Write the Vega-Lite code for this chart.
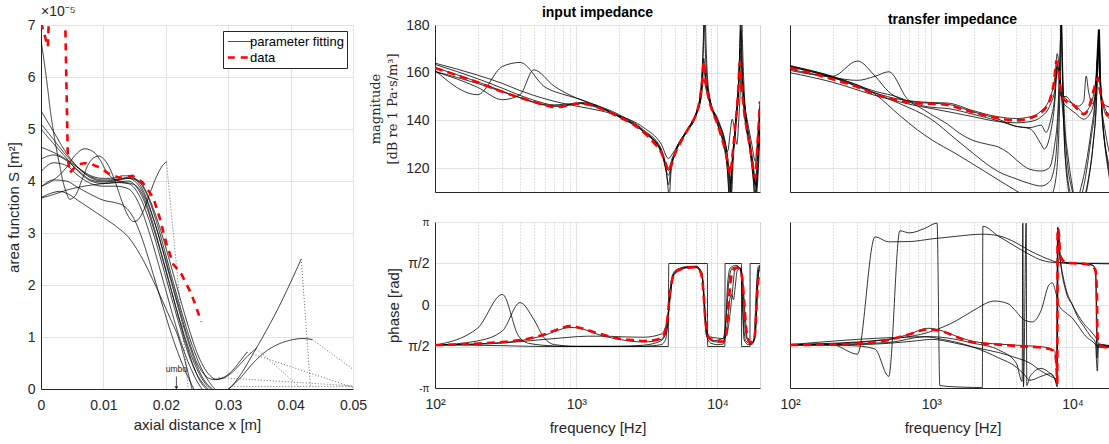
{
"$schema": "https://vega.github.io/schema/vega-lite/v6.json",
"background": "white",
"padding": {"left": 5, "top": 4, "right": 0, "bottom": 0},
"config": {
 "font": "Liberation Sans",
 "view": {"stroke": "#dcdcdc", "strokeWidth": 1},
 "axis": {"domainColor": "#262626", "domainWidth": 1, "labelColor": "#262626", "titleColor": "#262626", "labelFont": "Liberation Sans", "titleFont": "Liberation Sans", "labelFontSize": 14, "titleFontSize": 15, "titleFontWeight": "normal", "gridColor": "#e2e2e2", "gridWidth": 1, "ticks": false, "labelPadding": 6},
 "axisX": {"labelFlush": false},
 "title": {"font": "Liberation Sans", "fontSize": 14, "fontWeight": "bold", "color": "#000000", "offset": -2}
},
"datasets": {
 "area": [
  {"x":0,"S":6.71,"c":"1"},{"x":0.0005,"S":6.3,"c":"1"},{"x":0.001,"S":5.85,"c":"1"},{"x":0.0015,"S":5.35,"c":"1"},{"x":0.002,"S":4.95,"c":"1"},{"x":0.0025,"S":4.6,"c":"1"},{"x":0.003,"S":4.3,"c":"1"},{"x":0.0035,"S":4.0,"c":"1"},{"x":0.004,"S":3.8,"c":"1"},{"x":0.0046,"S":3.65,"c":"1"},{"x":0.0055,"S":3.72,"c":"1"},{"x":0.0065,"S":4.0,"c":"1"},{"x":0.0075,"S":4.3,"c":"1"},{"x":0.0085,"S":4.45,"c":"1"},{"x":0.0093,"S":4.48,"c":"1"},{"x":0.010,"S":4.43,"c":"1"},{"x":0.011,"S":4.25,"c":"1"},{"x":0.012,"S":3.95,"c":"1"},{"x":0.013,"S":3.6,"c":"1"},{"x":0.014,"S":3.32,"c":"1"},{"x":0.0148,"S":3.22,"c":"1"},{"x":0.0155,"S":3.25,"c":"1"},{"x":0.0165,"S":3.45,"c":"1"},{"x":0.0175,"S":3.78,"c":"1"},{"x":0.0185,"S":4.08,"c":"1"},{"x":0.0195,"S":4.3,"c":"1"},{"x":0.0201,"S":4.37,"c":"1"},
  {"x":0,"S":3.9,"c":"2"},{"x":0.002,"S":4.02,"c":"2"},{"x":0.004,"S":4.25,"c":"2"},{"x":0.0055,"S":4.5,"c":"2"},{"x":0.007,"S":4.62,"c":"2"},{"x":0.0085,"S":4.55,"c":"2"},{"x":0.0095,"S":4.4,"c":"2"},{"x":0.0105,"S":4.18,"c":"2"},{"x":0.0115,"S":4.05,"c":"2"},{"x":0.013,"S":3.98,"c":"2"},{"x":0.0145,"S":3.95,"c":"2"},{"x":0.0155,"S":3.88,"c":"2"},{"x":0.0165,"S":3.68,"c":"2"},{"x":0.0175,"S":3.35,"c":"2"},{"x":0.0185,"S":2.95,"c":"2"},{"x":0.0195,"S":2.52,"c":"2"},{"x":0.0205,"S":2.08,"c":"2"},{"x":0.0215,"S":1.62,"c":"2"},{"x":0.0225,"S":1.18,"c":"2"},{"x":0.0235,"S":0.78,"c":"2"},{"x":0.0245,"S":0.42,"c":"2"},{"x":0.0255,"S":0.15,"c":"2"},{"x":0.0265,"S":0.0,"c":"2"},
  {"x":0,"S":5.35,"c":"3"},{"x":0.002,"S":4.95,"c":"3"},{"x":0.004,"S":4.55,"c":"3"},{"x":0.006,"S":4.25,"c":"3"},{"x":0.008,"S":4.08,"c":"3"},{"x":0.010,"S":4.02,"c":"3"},{"x":0.012,"S":4.03,"c":"3"},{"x":0.014,"S":4.05,"c":"3"},{"x":0.015,"S":4.0,"c":"3"},{"x":0.016,"S":3.85,"c":"3"},{"x":0.017,"S":3.6,"c":"3"},{"x":0.018,"S":3.28,"c":"3"},{"x":0.019,"S":2.9,"c":"3"},{"x":0.020,"S":2.48,"c":"3"},{"x":0.021,"S":2.05,"c":"3"},{"x":0.022,"S":1.62,"c":"3"},{"x":0.023,"S":1.2,"c":"3"},{"x":0.024,"S":0.82,"c":"3"},{"x":0.025,"S":0.5,"c":"3"},{"x":0.026,"S":0.3,"c":"3"},{"x":0.027,"S":0.2,"c":"3"},{"x":0.028,"S":0.18,"c":"3"},{"x":0.029,"S":0.21,"c":"3"},{"x":0.030,"S":0.28,"c":"3"},{"x":0.031,"S":0.4,"c":"3"},{"x":0.032,"S":0.55,"c":"3"},{"x":0.033,"S":0.71,"c":"3"},
  {"x":0,"S":5.1,"c":"4"},{"x":0.002,"S":4.8,"c":"4"},{"x":0.004,"S":4.5,"c":"4"},{"x":0.006,"S":4.25,"c":"4"},{"x":0.008,"S":4.06,"c":"4"},{"x":0.010,"S":4.0,"c":"4"},{"x":0.012,"S":4.02,"c":"4"},{"x":0.014,"S":4.07,"c":"4"},{"x":0.0155,"S":4.02,"c":"4"},{"x":0.0165,"S":3.85,"c":"4"},{"x":0.0175,"S":3.58,"c":"4"},{"x":0.0185,"S":3.22,"c":"4"},{"x":0.0195,"S":2.8,"c":"4"},{"x":0.0205,"S":2.36,"c":"4"},{"x":0.0215,"S":1.92,"c":"4"},{"x":0.0225,"S":1.5,"c":"4"},{"x":0.0235,"S":1.1,"c":"4"},{"x":0.0245,"S":0.75,"c":"4"},{"x":0.0255,"S":0.45,"c":"4"},{"x":0.0265,"S":0.22,"c":"4"},{"x":0.0275,"S":0.05,"c":"4"},{"x":0.0285,"S":-0.05,"c":"4"},{"x":0.0295,"S":-0.05,"c":"4"},{"x":0.0305,"S":0.05,"c":"4"},{"x":0.032,"S":0.28,"c":"4"},{"x":0.034,"S":0.68,"c":"4"},{"x":0.036,"S":1.1,"c":"4"},{"x":0.038,"S":1.55,"c":"4"},{"x":0.040,"S":2.05,"c":"4"},{"x":0.0417,"S":2.5,"c":"4"},
  {"x":0,"S":5.0,"c":"5"},{"x":0.002,"S":4.72,"c":"5"},{"x":0.004,"S":4.45,"c":"5"},{"x":0.006,"S":4.18,"c":"5"},{"x":0.008,"S":4.0,"c":"5"},{"x":0.010,"S":3.95,"c":"5"},{"x":0.012,"S":3.97,"c":"5"},{"x":0.014,"S":4.0,"c":"5"},{"x":0.015,"S":3.93,"c":"5"},{"x":0.016,"S":3.75,"c":"5"},{"x":0.017,"S":3.47,"c":"5"},{"x":0.018,"S":3.1,"c":"5"},{"x":0.019,"S":2.7,"c":"5"},{"x":0.020,"S":2.27,"c":"5"},{"x":0.021,"S":1.84,"c":"5"},{"x":0.022,"S":1.42,"c":"5"},{"x":0.023,"S":1.02,"c":"5"},{"x":0.024,"S":0.67,"c":"5"},{"x":0.025,"S":0.38,"c":"5"},{"x":0.026,"S":0.16,"c":"5"},{"x":0.027,"S":0.02,"c":"5"},{"x":0.028,"S":-0.06,"c":"5"},{"x":0.029,"S":-0.06,"c":"5"},{"x":0.030,"S":0.0,"c":"5"},{"x":0.032,"S":0.22,"c":"5"},{"x":0.034,"S":0.5,"c":"5"},{"x":0.036,"S":0.72,"c":"5"},{"x":0.038,"S":0.86,"c":"5"},{"x":0.040,"S":0.94,"c":"5"},{"x":0.042,"S":0.97,"c":"5"},{"x":0.0435,"S":0.95,"c":"5"},
  {"x":0,"S":4.65,"c":"6"},{"x":0.002,"S":4.55,"c":"6"},{"x":0.004,"S":4.42,"c":"6"},{"x":0.006,"S":4.25,"c":"6"},{"x":0.008,"S":4.1,"c":"6"},{"x":0.010,"S":4.05,"c":"6"},{"x":0.012,"S":4.06,"c":"6"},{"x":0.013,"S":4.1,"c":"6"},{"x":0.014,"S":4.1,"c":"6"},{"x":0.015,"S":4.05,"c":"6"},{"x":0.016,"S":3.9,"c":"6"},{"x":0.017,"S":3.64,"c":"6"},{"x":0.018,"S":3.28,"c":"6"},{"x":0.019,"S":2.88,"c":"6"},{"x":0.020,"S":2.44,"c":"6"},{"x":0.021,"S":2.0,"c":"6"},{"x":0.022,"S":1.56,"c":"6"},{"x":0.023,"S":1.14,"c":"6"},{"x":0.024,"S":0.76,"c":"6"},{"x":0.025,"S":0.44,"c":"6"},{"x":0.026,"S":0.2,"c":"6"},{"x":0.027,"S":0.05,"c":"6"},{"x":0.0275,"S":0.0,"c":"6"},
  {"x":0,"S":4.42,"c":"7"},{"x":0.002,"S":4.5,"c":"7"},{"x":0.004,"S":4.4,"c":"7"},{"x":0.006,"S":4.2,"c":"7"},{"x":0.008,"S":4.02,"c":"7"},{"x":0.010,"S":3.98,"c":"7"},{"x":0.012,"S":4.0,"c":"7"},{"x":0.014,"S":4.05,"c":"7"},{"x":0.016,"S":3.96,"c":"7"},{"x":0.017,"S":3.76,"c":"7"},{"x":0.018,"S":3.47,"c":"7"},{"x":0.019,"S":3.12,"c":"7"},{"x":0.020,"S":2.72,"c":"7"},{"x":0.021,"S":2.3,"c":"7"},{"x":0.022,"S":1.87,"c":"7"},{"x":0.023,"S":1.45,"c":"7"},{"x":0.024,"S":1.05,"c":"7"},{"x":0.025,"S":0.7,"c":"7"},{"x":0.026,"S":0.44,"c":"7"},{"x":0.027,"S":0.27,"c":"7"},{"x":0.028,"S":0.19,"c":"7"},{"x":0.029,"S":0.2,"c":"7"},{"x":0.030,"S":0.26,"c":"7"},{"x":0.031,"S":0.36,"c":"7"},{"x":0.032,"S":0.49,"c":"7"},{"x":0.033,"S":0.62,"c":"7"},{"x":0.0345,"S":0.78,"c":"7"},
  {"x":0,"S":4.18,"c":"8"},{"x":0.002,"S":4.35,"c":"8"},{"x":0.004,"S":4.3,"c":"8"},{"x":0.006,"S":4.1,"c":"8"},{"x":0.008,"S":3.95,"c":"8"},{"x":0.010,"S":3.9,"c":"8"},{"x":0.012,"S":3.9,"c":"8"},{"x":0.014,"S":3.85,"c":"8"},{"x":0.015,"S":3.72,"c":"8"},{"x":0.016,"S":3.48,"c":"8"},{"x":0.017,"S":3.14,"c":"8"},{"x":0.018,"S":2.75,"c":"8"},{"x":0.019,"S":2.33,"c":"8"},{"x":0.020,"S":1.9,"c":"8"},{"x":0.021,"S":1.47,"c":"8"},{"x":0.022,"S":1.06,"c":"8"},{"x":0.023,"S":0.7,"c":"8"},{"x":0.024,"S":0.4,"c":"8"},{"x":0.025,"S":0.15,"c":"8"},{"x":0.0258,"S":0.0,"c":"8"},
  {"x":0,"S":3.88,"c":"9"},{"x":0.002,"S":4.02,"c":"9"},{"x":0.004,"S":4.0,"c":"9"},{"x":0.006,"S":3.87,"c":"9"},{"x":0.008,"S":3.74,"c":"9"},{"x":0.010,"S":3.63,"c":"9"},{"x":0.012,"S":3.58,"c":"9"},{"x":0.013,"S":3.54,"c":"9"},{"x":0.014,"S":3.44,"c":"9"},{"x":0.015,"S":3.25,"c":"9"},{"x":0.016,"S":2.96,"c":"9"},{"x":0.017,"S":2.6,"c":"9"},{"x":0.018,"S":2.2,"c":"9"},{"x":0.019,"S":1.8,"c":"9"},{"x":0.020,"S":1.4,"c":"9"},{"x":0.021,"S":1.02,"c":"9"},{"x":0.022,"S":0.68,"c":"9"},{"x":0.023,"S":0.38,"c":"9"},{"x":0.024,"S":0.12,"c":"9"},{"x":0.0245,"S":0.0,"c":"9"},
  {"x":0,"S":3.68,"c":"10"},{"x":0.0015,"S":3.76,"c":"10"},{"x":0.003,"S":3.8,"c":"10"},{"x":0.0045,"S":3.74,"c":"10"},{"x":0.006,"S":3.62,"c":"10"},{"x":0.008,"S":3.46,"c":"10"},{"x":0.010,"S":3.3,"c":"10"},{"x":0.012,"S":3.13,"c":"10"},{"x":0.014,"S":2.92,"c":"10"},{"x":0.016,"S":2.56,"c":"10"},{"x":0.018,"S":2.08,"c":"10"},{"x":0.020,"S":1.55,"c":"10"},{"x":0.021,"S":1.28,"c":"10"},{"x":0.022,"S":1.0,"c":"10"},{"x":0.023,"S":0.58,"c":"10"},{"x":0.024,"S":0.1,"c":"10"},{"x":0.0242,"S":0.0,"c":"10"},
  {"x":0,"S":3.67,"c":"11"},{"x":0.002,"S":3.74,"c":"11"},{"x":0.004,"S":3.82,"c":"11"},{"x":0.006,"S":3.88,"c":"11"},{"x":0.008,"S":3.92,"c":"11"},{"x":0.010,"S":3.95,"c":"11"},{"x":0.012,"S":3.97,"c":"11"},{"x":0.014,"S":3.95,"c":"11"},{"x":0.015,"S":3.86,"c":"11"},{"x":0.016,"S":3.66,"c":"11"},{"x":0.017,"S":3.36,"c":"11"},{"x":0.018,"S":2.99,"c":"11"},{"x":0.019,"S":2.58,"c":"11"},{"x":0.020,"S":2.15,"c":"11"},{"x":0.021,"S":1.72,"c":"11"},{"x":0.022,"S":1.3,"c":"11"},{"x":0.023,"S":0.9,"c":"11"},{"x":0.024,"S":0.55,"c":"11"},{"x":0.025,"S":0.28,"c":"11"},{"x":0.026,"S":0.1,"c":"11"},{"x":0.0268,"S":0.0,"c":"11"},
  {"x":0,"S":7.05,"c":"data"},{"x":0.0011,"S":6.58,"c":"data"},{"x":0.0014,"S":7.6,"c":"data"},{"x":0.0038,"S":7.6,"c":"data"},{"x":0.0043,"S":4.45,"c":"data"},{"x":0.0046,"S":4.16,"c":"data"},{"x":0.0059,"S":4.32,"c":"data"},{"x":0.0075,"S":4.35,"c":"data"},{"x":0.0094,"S":4.26,"c":"data"},{"x":0.011,"S":4.13,"c":"data"},{"x":0.0126,"S":4.06,"c":"data"},{"x":0.0147,"S":4.1,"c":"data"},{"x":0.0163,"S":3.97,"c":"data"},{"x":0.018,"S":3.68,"c":"data"},{"x":0.019,"S":3.3,"c":"data"},{"x":0.0201,"S":2.79,"c":"data"},{"x":0.0212,"S":2.4,"c":"data"},{"x":0.0225,"S":2.21,"c":"data"},{"x":0.0241,"S":1.83,"c":"data"},{"x":0.0257,"S":1.29,"c":"data"}
 ],
 "ext": [
  {"x":0.0201,"S":4.37,"c":"e1"},{"x":0.0236,"S":0.0,"c":"e1"},
  {"x":0.033,"S":0.71,"c":"e2"},{"x":0.05,"S":0.03,"c":"e2"},
  {"x":0.0345,"S":0.78,"c":"e3"},{"x":0.0415,"S":0.03,"c":"e3"},
  {"x":0.0417,"S":2.5,"c":"e4"},{"x":0.0432,"S":0.03,"c":"e4"},
  {"x":0.0435,"S":0.95,"c":"e5"},{"x":0.05,"S":0.38,"c":"e5"},
  {"x":0.0285,"S":0.22,"c":"e6"},{"x":0.05,"S":0.06,"c":"e6"},
  {"x":0.0305,"S":0.05,"c":"e7"},{"x":0.05,"S":0.05,"c":"e7"}
 ],
 "umbo": [{"x":0.0217,"S":0.27,"top":0.24,"tip":0.02,"label":"umbo"}],
 "inMag": [
  {"f":100,"dB":162,"c":"d"},{"f":150,"dB":158.5,"c":"d"},{"f":200,"dB":156,"c":"d"},{"f":300,"dB":152,"c":"d"},{"f":400,"dB":149.5,"c":"d"},{"f":500,"dB":147.8,"c":"d"},{"f":600,"dB":146.5,"c":"d"},{"f":700,"dB":145.6,"c":"d"},{"f":800,"dB":145.8,"c":"d"},{"f":900,"dB":146.5,"c":"d"},{"f":1000,"dB":147,"c":"d"},{"f":1100,"dB":147,"c":"d"},{"f":1300,"dB":146.3,"c":"d"},{"f":1600,"dB":144.2,"c":"d"},{"f":2000,"dB":141.5,"c":"d"},{"f":2500,"dB":138.5,"c":"d"},{"f":3000,"dB":135,"c":"d"},{"f":3500,"dB":131,"c":"d"},{"f":4000,"dB":126.5,"c":"d"},{"f":4300,"dB":122,"c":"d"},{"f":4500,"dB":118.5,"c":"d"},{"f":4700,"dB":121,"c":"d"},{"f":5000,"dB":126,"c":"d"},{"f":5500,"dB":131,"c":"d"},{"f":6000,"dB":135,"c":"d"},{"f":6500,"dB":138.5,"c":"d"},{"f":7000,"dB":142,"c":"d"},{"f":7500,"dB":149,"c":"d"},{"f":7800,"dB":157,"c":"d"},{"f":8000,"dB":164.5,"c":"d"},{"f":8200,"dB":158,"c":"d"},{"f":8600,"dB":150,"c":"d"},{"f":9200,"dB":144,"c":"d"},{"f":10000,"dB":138.5,"c":"d"},{"f":10800,"dB":132,"c":"d"},{"f":11500,"dB":126,"c":"d"},{"f":12000,"dB":120,"c":"d"},{"f":12300,"dB":117.5,"c":"d"},{"f":12700,"dB":124,"c":"d"},{"f":13300,"dB":136,"c":"d"},{"f":14000,"dB":152,"c":"d"},{"f":14400,"dB":164.5,"c":"d"},{"f":14800,"dB":155,"c":"d"},{"f":15500,"dB":143,"c":"d"},{"f":16500,"dB":133,"c":"d"},{"f":17500,"dB":124,"c":"d"},{"f":18500,"dB":116,"c":"d"},{"f":19200,"dB":130,"c":"d"},{"f":20000,"dB":148,"c":"d"},
  {"f":100,"dB":163.5,"c":"1"},{"f":200,"dB":157.5,"c":"1"},{"f":300,"dB":153.5,"c":"1"},{"f":400,"dB":150.5,"c":"1"},{"f":500,"dB":148.5,"c":"1"},{"f":700,"dB":146.5,"c":"1"},{"f":900,"dB":147,"c":"1"},{"f":1000,"dB":147.2,"c":"1"},{"f":1300,"dB":146,"c":"1"},{"f":2000,"dB":141.8,"c":"1"},{"f":3000,"dB":135.5,"c":"1"},{"f":4000,"dB":127,"c":"1"},{"f":4300,"dB":120,"c":"1"},{"f":4500,"dB":113,"c":"1"},{"f":4700,"dB":121,"c":"1"},{"f":5000,"dB":126.5,"c":"1"},{"f":6000,"dB":135.5,"c":"1"},{"f":7000,"dB":142.5,"c":"1"},{"f":7600,"dB":152,"c":"1"},{"f":7900,"dB":170,"c":"1"},{"f":8050,"dB":185,"c":"1"},{"f":8200,"dB":170,"c":"1"},{"f":8600,"dB":152,"c":"1"},{"f":10000,"dB":139,"c":"1"},{"f":11500,"dB":125,"c":"1"},{"f":12000,"dB":112,"c":"1"},{"f":12200,"dB":105,"c":"1"},{"f":12600,"dB":118,"c":"1"},{"f":13500,"dB":140,"c":"1"},{"f":14300,"dB":165,"c":"1"},{"f":14600,"dB":185,"c":"1"},{"f":14900,"dB":165,"c":"1"},{"f":15500,"dB":144,"c":"1"},{"f":17000,"dB":128,"c":"1"},{"f":18000,"dB":115,"c":"1"},{"f":18500,"dB":105,"c":"1"},{"f":19500,"dB":120,"c":"1"},{"f":20000,"dB":135,"c":"1"},
  {"f":100,"dB":164,"c":"2"},{"f":200,"dB":159,"c":"2"},{"f":300,"dB":155.5,"c":"2"},{"f":400,"dB":152.5,"c":"2"},{"f":500,"dB":150.5,"c":"2"},{"f":700,"dB":148,"c":"2"},{"f":1000,"dB":146,"c":"2"},{"f":1500,"dB":144,"c":"2"},{"f":2000,"dB":142,"c":"2"},{"f":3000,"dB":137,"c":"2"},{"f":4000,"dB":130,"c":"2"},{"f":4500,"dB":124,"c":"2"},{"f":4800,"dB":126,"c":"2"},{"f":5500,"dB":132,"c":"2"},{"f":6500,"dB":138.5,"c":"2"},{"f":7500,"dB":147,"c":"2"},{"f":8000,"dB":157,"c":"2"},{"f":8300,"dB":153,"c":"2"},{"f":9000,"dB":146,"c":"2"},{"f":10000,"dB":141,"c":"2"},{"f":11000,"dB":134,"c":"2"},{"f":11800,"dB":127,"c":"2"},{"f":12300,"dB":135,"c":"2"},{"f":12700,"dB":140.5,"c":"2"},{"f":13200,"dB":136,"c":"2"},{"f":13700,"dB":130,"c":"2"},{"f":14300,"dB":145,"c":"2"},{"f":14800,"dB":160,"c":"2"},{"f":15300,"dB":150,"c":"2"},{"f":16500,"dB":138,"c":"2"},{"f":17500,"dB":130,"c":"2"},{"f":18500,"dB":123,"c":"2"},{"f":19500,"dB":138,"c":"2"},{"f":20000,"dB":148,"c":"2"},
  {"f":100,"dB":160.5,"c":"3"},{"f":200,"dB":155.5,"c":"3"},{"f":300,"dB":152,"c":"3"},{"f":400,"dB":149.5,"c":"3"},{"f":500,"dB":147.5,"c":"3"},{"f":700,"dB":146,"c":"3"},{"f":900,"dB":146.5,"c":"3"},{"f":1100,"dB":147.5,"c":"3"},{"f":1300,"dB":146.8,"c":"3"},{"f":2000,"dB":141.5,"c":"3"},{"f":3000,"dB":135.2,"c":"3"},{"f":4000,"dB":126.8,"c":"3"},{"f":4400,"dB":116,"c":"3"},{"f":4550,"dB":108,"c":"3"},{"f":4700,"dB":119,"c":"3"},{"f":5000,"dB":126,"c":"3"},{"f":6000,"dB":135,"c":"3"},{"f":7000,"dB":142,"c":"3"},{"f":7700,"dB":153,"c":"3"},{"f":8000,"dB":175,"c":"3"},{"f":8150,"dB":190,"c":"3"},{"f":8300,"dB":172,"c":"3"},{"f":8700,"dB":152,"c":"3"},{"f":10000,"dB":138.5,"c":"3"},{"f":11000,"dB":130,"c":"3"},{"f":11800,"dB":118,"c":"3"},{"f":12100,"dB":108,"c":"3"},{"f":12500,"dB":117,"c":"3"},{"f":13500,"dB":140,"c":"3"},{"f":14500,"dB":172,"c":"3"},{"f":14800,"dB":190,"c":"3"},{"f":15000,"dB":175,"c":"3"},{"f":15700,"dB":145,"c":"3"},{"f":17000,"dB":127,"c":"3"},{"f":18000,"dB":114,"c":"3"},{"f":18500,"dB":106,"c":"3"},{"f":19200,"dB":125,"c":"3"},{"f":20000,"dB":142,"c":"3"},
  {"f":100,"dB":161,"c":"4"},{"f":200,"dB":150.8,"c":"4"},{"f":300,"dB":162.6,"c":"4"},{"f":400,"dB":164.3,"c":"4"},{"f":600,"dB":154,"c":"4"},{"f":800,"dB":151,"c":"4"},{"f":1000,"dB":149.4,"c":"4"},{"f":1300,"dB":147,"c":"4"},{"f":2000,"dB":142.5,"c":"4"},{"f":3000,"dB":136,"c":"4"},{"f":4000,"dB":128,"c":"4"},{"f":4500,"dB":119,"c":"4"},{"f":5000,"dB":126.5,"c":"4"},{"f":6000,"dB":135.5,"c":"4"},{"f":7000,"dB":142.5,"c":"4"},{"f":7700,"dB":150,"c":"4"},{"f":8000,"dB":162,"c":"4"},{"f":8300,"dB":156,"c":"4"},{"f":9000,"dB":147,"c":"4"},{"f":10000,"dB":140,"c":"4"},{"f":11000,"dB":133,"c":"4"},{"f":11800,"dB":124,"c":"4"},{"f":12300,"dB":110,"c":"4"},{"f":12800,"dB":122,"c":"4"},{"f":13500,"dB":139,"c":"4"},{"f":14200,"dB":155,"c":"4"},{"f":14600,"dB":178,"c":"4"},{"f":15000,"dB":160,"c":"4"},{"f":16000,"dB":140,"c":"4"},{"f":17000,"dB":130,"c":"4"},{"f":18000,"dB":120,"c":"4"},{"f":18700,"dB":110,"c":"4"},{"f":19500,"dB":125,"c":"4"},{"f":20000,"dB":140,"c":"4"},
  {"f":100,"dB":160.5,"c":"5"},{"f":200,"dB":153.9,"c":"5"},{"f":300,"dB":148.7,"c":"5"},{"f":400,"dB":150.8,"c":"5"},{"f":500,"dB":161.2,"c":"5"},{"f":700,"dB":154.3,"c":"5"},{"f":1000,"dB":149.4,"c":"5"},{"f":1300,"dB":146.8,"c":"5"},{"f":2000,"dB":142,"c":"5"},{"f":3000,"dB":135.5,"c":"5"},{"f":4000,"dB":127.5,"c":"5"},{"f":4500,"dB":120,"c":"5"},{"f":4800,"dB":124.5,"c":"5"},{"f":5500,"dB":131,"c":"5"},{"f":6500,"dB":138.5,"c":"5"},{"f":7500,"dB":148,"c":"5"},{"f":7950,"dB":163,"c":"5"},{"f":8300,"dB":157,"c":"5"},{"f":9000,"dB":146.5,"c":"5"},{"f":10000,"dB":140,"c":"5"},{"f":11500,"dB":129,"c":"5"},{"f":12300,"dB":115,"c":"5"},{"f":12600,"dB":110,"c":"5"},{"f":13000,"dB":128,"c":"5"},{"f":14000,"dB":150,"c":"5"},{"f":14500,"dB":170,"c":"5"},{"f":15000,"dB":158,"c":"5"},{"f":16000,"dB":141,"c":"5"},{"f":17000,"dB":131,"c":"5"},{"f":18200,"dB":117,"c":"5"},{"f":18800,"dB":112,"c":"5"},{"f":19600,"dB":132,"c":"5"},{"f":20000,"dB":145,"c":"5"},
  {"f":100,"dB":162.2,"c":"6"},{"f":200,"dB":156.2,"c":"6"},{"f":400,"dB":149.6,"c":"6"},{"f":600,"dB":146.6,"c":"6"},{"f":800,"dB":145.9,"c":"6"},{"f":1000,"dB":147.3,"c":"6"},{"f":1300,"dB":146.4,"c":"6"},{"f":2000,"dB":141.6,"c":"6"},{"f":3000,"dB":135.1,"c":"6"},{"f":4000,"dB":126.6,"c":"6"},{"f":4500,"dB":117,"c":"6"},{"f":4700,"dB":121,"c":"6"},{"f":5000,"dB":126,"c":"6"},{"f":6000,"dB":135,"c":"6"},{"f":7000,"dB":142,"c":"6"},{"f":7800,"dB":157,"c":"6"},{"f":8000,"dB":166,"c":"6"},{"f":8200,"dB":158,"c":"6"},{"f":9200,"dB":144,"c":"6"},{"f":10000,"dB":138.5,"c":"6"},{"f":11500,"dB":126,"c":"6"},{"f":12000,"dB":119,"c":"6"},{"f":12300,"dB":113,"c":"6"},{"f":12700,"dB":124,"c":"6"},{"f":13300,"dB":136,"c":"6"},{"f":14000,"dB":152,"c":"6"},{"f":14400,"dB":167,"c":"6"},{"f":14800,"dB":155,"c":"6"},{"f":15500,"dB":143,"c":"6"},{"f":17500,"dB":124,"c":"6"},{"f":18500,"dB":113,"c":"6"},{"f":19200,"dB":128,"c":"6"},{"f":20000,"dB":146,"c":"6"}
 ],
 "inPh": [
  {"f":100,"rad":-1.52,"c":"d"},{"f":200,"rad":-1.46,"c":"d"},{"f":300,"rad":-1.4,"c":"d"},{"f":400,"rad":-1.33,"c":"d"},{"f":500,"rad":-1.23,"c":"d"},{"f":600,"rad":-1.11,"c":"d"},{"f":700,"rad":-0.97,"c":"d"},{"f":800,"rad":-0.86,"c":"d"},{"f":900,"rad":-0.8,"c":"d"},{"f":1000,"rad":-0.83,"c":"d"},{"f":1200,"rad":-0.95,"c":"d"},{"f":1500,"rad":-1.11,"c":"d"},{"f":2000,"rad":-1.27,"c":"d"},{"f":2500,"rad":-1.33,"c":"d"},{"f":3000,"rad":-1.36,"c":"d"},{"f":3500,"rad":-1.34,"c":"d"},{"f":4000,"rad":-1.24,"c":"d"},{"f":4200,"rad":-1.1,"c":"d"},{"f":4400,"rad":-0.6,"c":"d"},{"f":4600,"rad":0.4,"c":"d"},{"f":4800,"rad":1.0,"c":"d"},{"f":5000,"rad":1.22,"c":"d"},{"f":5500,"rad":1.35,"c":"d"},{"f":6000,"rad":1.41,"c":"d"},{"f":7000,"rad":1.43,"c":"d"},{"f":7500,"rad":1.3,"c":"d"},{"f":7800,"rad":0.97,"c":"d"},{"f":8000,"rad":0.3,"c":"d"},{"f":8200,"rad":-0.54,"c":"d"},{"f":8500,"rad":-1.1,"c":"d"},{"f":8700,"rad":-1.25,"c":"d"},{"f":10000,"rad":-1.36,"c":"d"},{"f":11000,"rad":-1.38,"c":"d"},{"f":11500,"rad":-1.2,"c":"d"},{"f":12000,"rad":0.09,"c":"d"},{"f":12500,"rad":1.05,"c":"d"},{"f":13000,"rad":1.34,"c":"d"},{"f":14000,"rad":1.41,"c":"d"},{"f":14500,"rad":1.3,"c":"d"},{"f":15000,"rad":0.97,"c":"d"},{"f":15500,"rad":0.0,"c":"d"},{"f":16000,"rad":-0.92,"c":"d"},{"f":16500,"rad":-1.3,"c":"d"},{"f":17000,"rad":-1.42,"c":"d"},{"f":18000,"rad":-1.35,"c":"d"},{"f":18500,"rad":-1.0,"c":"d"},{"f":19000,"rad":0.2,"c":"d"},{"f":19500,"rad":1.0,"c":"d"},{"f":20000,"rad":1.22,"c":"d"},
  {"f":100,"rad":-1.5,"c":"1"},{"f":300,"rad":-1.54,"c":"1"},{"f":600,"rad":-1.5708,"c":"1"},{"f":4480,"rad":-1.5708,"c":"1"},{"f":4520,"rad":1.5708,"c":"1"},{"f":8480,"rad":1.5708,"c":"1"},{"f":8520,"rad":-1.5708,"c":"1"},{"f":11280,"rad":-1.5708,"c":"1"},{"f":11320,"rad":1.5708,"c":"1"},{"f":14780,"rad":1.5708,"c":"1"},{"f":14820,"rad":-1.5708,"c":"1"},{"f":16980,"rad":-1.5708,"c":"1"},{"f":17020,"rad":1.5708,"c":"1"},{"f":20000,"rad":1.5708,"c":"1"},
  {"f":100,"rad":-1.52,"c":"2"},{"f":200,"rad":-0.88,"c":"2"},{"f":300,"rad":0.4,"c":"2"},{"f":390,"rad":-1.17,"c":"2"},{"f":460,"rad":-1.45,"c":"2"},{"f":700,"rad":-1.55,"c":"2"},{"f":1000,"rad":-1.5708,"c":"2"},{"f":2000,"rad":-1.57,"c":"2"},{"f":3000,"rad":-1.56,"c":"2"},{"f":4000,"rad":-1.5,"c":"2"},{"f":4300,"rad":-1.3,"c":"2"},{"f":4500,"rad":-0.2,"c":"2"},{"f":4700,"rad":0.9,"c":"2"},{"f":5000,"rad":1.3,"c":"2"},{"f":6000,"rad":1.45,"c":"2"},{"f":7000,"rad":1.47,"c":"2"},{"f":7800,"rad":1.2,"c":"2"},{"f":8100,"rad":-0.2,"c":"2"},{"f":8400,"rad":-1.2,"c":"2"},{"f":9000,"rad":-1.45,"c":"2"},{"f":10000,"rad":-1.5,"c":"2"},{"f":11000,"rad":-1.48,"c":"2"},{"f":11400,"rad":-0.8,"c":"2"},{"f":11800,"rad":0.8,"c":"2"},{"f":12300,"rad":1.4,"c":"2"},{"f":13500,"rad":1.5,"c":"2"},{"f":14600,"rad":1.35,"c":"2"},{"f":15000,"rad":0.2,"c":"2"},{"f":15400,"rad":-1.3,"c":"2"},{"f":16500,"rad":-1.5,"c":"2"},{"f":17500,"rad":-1.5,"c":"2"},{"f":18200,"rad":-1.2,"c":"2"},{"f":18800,"rad":0.5,"c":"2"},{"f":19400,"rad":1.45,"c":"2"},{"f":20000,"rad":1.5,"c":"2"},
  {"f":100,"rad":-1.52,"c":"3"},{"f":200,"rad":-1.36,"c":"3"},{"f":300,"rad":-0.98,"c":"3"},{"f":400,"rad":0.09,"c":"3"},{"f":500,"rad":-0.54,"c":"3"},{"f":590,"rad":-1.23,"c":"3"},{"f":700,"rad":-1.5,"c":"3"},{"f":1000,"rad":-1.56,"c":"3"},{"f":2000,"rad":-1.56,"c":"3"},{"f":3000,"rad":-1.52,"c":"3"},{"f":4000,"rad":-1.35,"c":"3"},{"f":4400,"rad":-0.9,"c":"3"},{"f":4600,"rad":0.2,"c":"3"},{"f":4900,"rad":1.15,"c":"3"},{"f":6000,"rad":1.43,"c":"3"},{"f":7200,"rad":1.45,"c":"3"},{"f":7800,"rad":1.05,"c":"3"},{"f":8050,"rad":-0.1,"c":"3"},{"f":8400,"rad":-1.2,"c":"3"},{"f":9500,"rad":-1.35,"c":"3"},{"f":10500,"rad":-1.3,"c":"3"},{"f":11000,"rad":-1.25,"c":"3"},{"f":11600,"rad":-0.3,"c":"3"},{"f":12000,"rad":0.8,"c":"3"},{"f":12700,"rad":1.4,"c":"3"},{"f":14000,"rad":1.45,"c":"3"},{"f":14700,"rad":1.2,"c":"3"},{"f":15200,"rad":-0.5,"c":"3"},{"f":15800,"rad":-1.35,"c":"3"},{"f":17000,"rad":-1.45,"c":"3"},{"f":18000,"rad":-1.4,"c":"3"},{"f":18600,"rad":-0.6,"c":"3"},{"f":19200,"rad":1.0,"c":"3"},{"f":20000,"rad":1.5,"c":"3"},
  {"f":100,"rad":-1.52,"c":"4"},{"f":300,"rad":-1.44,"c":"4"},{"f":600,"rad":-1.3,"c":"4"},{"f":900,"rad":-1.22,"c":"4"},{"f":1200,"rad":-1.18,"c":"4"},{"f":1600,"rad":-1.18,"c":"4"},{"f":2000,"rad":-1.2,"c":"4"},{"f":3000,"rad":-1.22,"c":"4"},{"f":4000,"rad":-1.1,"c":"4"},{"f":4300,"rad":-0.8,"c":"4"},{"f":4500,"rad":-0.2,"c":"4"},{"f":4700,"rad":0.7,"c":"4"},{"f":5000,"rad":1.2,"c":"4"},{"f":6000,"rad":1.4,"c":"4"},{"f":7000,"rad":1.42,"c":"4"},{"f":7700,"rad":1.2,"c":"4"},{"f":8000,"rad":0.5,"c":"4"},{"f":8300,"rad":-0.7,"c":"4"},{"f":8700,"rad":-1.2,"c":"4"},{"f":10000,"rad":-1.25,"c":"4"},{"f":11000,"rad":-1.28,"c":"4"},{"f":11700,"rad":-1.05,"c":"4"},{"f":12300,"rad":-0.3,"c":"4"},{"f":12800,"rad":0.6,"c":"4"},{"f":13300,"rad":1.35,"c":"4"},{"f":14300,"rad":1.42,"c":"4"},{"f":15000,"rad":1.0,"c":"4"},{"f":15500,"rad":-0.5,"c":"4"},{"f":16200,"rad":-1.3,"c":"4"},{"f":17500,"rad":-1.4,"c":"4"},{"f":18500,"rad":-1.2,"c":"4"},{"f":19000,"rad":0.0,"c":"4"},{"f":19600,"rad":1.3,"c":"4"},{"f":20000,"rad":1.45,"c":"4"},
  {"f":100,"rad":-1.52,"c":"5"},{"f":200,"rad":-1.47,"c":"5"},{"f":400,"rad":-1.35,"c":"5"},{"f":600,"rad":-1.14,"c":"5"},{"f":800,"rad":-0.9,"c":"5"},{"f":900,"rad":-0.85,"c":"5"},{"f":1000,"rad":-0.86,"c":"5"},{"f":1500,"rad":-1.15,"c":"5"},{"f":2000,"rad":-1.3,"c":"5"},{"f":3000,"rad":-1.4,"c":"5"},{"f":4000,"rad":-1.3,"c":"5"},{"f":4300,"rad":-1.0,"c":"5"},{"f":4500,"rad":-0.3,"c":"5"},{"f":4700,"rad":0.7,"c":"5"},{"f":5000,"rad":1.25,"c":"5"},{"f":6000,"rad":1.42,"c":"5"},{"f":7000,"rad":1.44,"c":"5"},{"f":7700,"rad":1.2,"c":"5"},{"f":8000,"rad":0.4,"c":"5"},{"f":8300,"rad":-0.9,"c":"5"},{"f":9000,"rad":-1.35,"c":"5"},{"f":10000,"rad":-1.4,"c":"5"},{"f":11000,"rad":-1.4,"c":"5"},{"f":11500,"rad":-1.1,"c":"5"},{"f":11900,"rad":-0.4,"c":"5"},{"f":12200,"rad":0.2,"c":"5"},{"f":12600,"rad":0.4,"c":"5"},{"f":13000,"rad":0.2,"c":"5"},{"f":13300,"rad":0.6,"c":"5"},{"f":13800,"rad":1.3,"c":"5"},{"f":14500,"rad":1.4,"c":"5"},{"f":15000,"rad":1.1,"c":"5"},{"f":15800,"rad":-0.6,"c":"5"},{"f":16300,"rad":-1.3,"c":"5"},{"f":17500,"rad":-1.45,"c":"5"},{"f":18300,"rad":-1.3,"c":"5"},{"f":18800,"rad":-0.5,"c":"5"},{"f":19400,"rad":1.1,"c":"5"},{"f":20000,"rad":1.35,"c":"5"}
 ],
 "trMag": [
  {"f":100,"dB":162,"c":"d"},{"f":200,"dB":157.3,"c":"d"},{"f":300,"dB":154,"c":"d"},{"f":400,"dB":151,"c":"d"},{"f":600,"dB":148.2,"c":"d"},{"f":800,"dB":147.2,"c":"d"},{"f":1000,"dB":147,"c":"d"},{"f":1300,"dB":146.5,"c":"d"},{"f":1600,"dB":145,"c":"d"},{"f":2000,"dB":143.3,"c":"d"},{"f":3000,"dB":140.9,"c":"d"},{"f":4000,"dB":140,"c":"d"},{"f":5000,"dB":141,"c":"d"},{"f":6000,"dB":143.3,"c":"d"},{"f":6500,"dB":145.5,"c":"d"},{"f":7000,"dB":149.6,"c":"d"},{"f":7400,"dB":156,"c":"d"},{"f":7700,"dB":164.9,"c":"d"},{"f":7900,"dB":162,"c":"d"},{"f":8200,"dB":154,"c":"d"},{"f":8500,"dB":149.6,"c":"d"},{"f":9000,"dB":148,"c":"d"},{"f":10000,"dB":146.8,"c":"d"},{"f":11000,"dB":144.5,"c":"d"},{"f":12000,"dB":142.6,"c":"d"},{"f":13000,"dB":145,"c":"d"},{"f":13500,"dB":148.2,"c":"d"},{"f":14500,"dB":155.1,"c":"d"},{"f":15200,"dB":157.9,"c":"d"},{"f":15600,"dB":153,"c":"d"},{"f":16000,"dB":149.6,"c":"d"},{"f":17000,"dB":144,"c":"d"},{"f":17500,"dB":142.6,"c":"d"},{"f":18500,"dB":142,"c":"d"},{"f":20000,"dB":142,"c":"d"},
  {"f":100,"dB":162.5,"c":"1"},{"f":200,"dB":158,"c":"1"},{"f":400,"dB":151.5,"c":"1"},{"f":600,"dB":148.8,"c":"1"},{"f":1000,"dB":147.5,"c":"1"},{"f":1300,"dB":147.3,"c":"1"},{"f":2000,"dB":144,"c":"1"},{"f":3000,"dB":141.5,"c":"1"},{"f":4000,"dB":140.8,"c":"1"},{"f":5000,"dB":141.5,"c":"1"},{"f":6000,"dB":144,"c":"1"},{"f":7000,"dB":150,"c":"1"},{"f":7500,"dB":158,"c":"1"},{"f":7800,"dB":168,"c":"1"},{"f":8000,"dB":164,"c":"1"},{"f":8400,"dB":152,"c":"1"},{"f":9000,"dB":149,"c":"1"},{"f":10000,"dB":147,"c":"1"},{"f":11000,"dB":145,"c":"1"},{"f":12000,"dB":143,"c":"1"},{"f":13000,"dB":145,"c":"1"},{"f":14000,"dB":150,"c":"1"},{"f":14800,"dB":160,"c":"1"},{"f":15200,"dB":170,"c":"1"},{"f":15500,"dB":160,"c":"1"},{"f":16000,"dB":151,"c":"1"},{"f":17000,"dB":145,"c":"1"},{"f":18000,"dB":143,"c":"1"},{"f":20000,"dB":143,"c":"1"},
  {"f":100,"dB":160,"c":"2"},{"f":200,"dB":156,"c":"2"},{"f":400,"dB":150.5,"c":"2"},{"f":700,"dB":146.8,"c":"2"},{"f":1000,"dB":145,"c":"2"},{"f":1500,"dB":143,"c":"2"},{"f":2000,"dB":141.5,"c":"2"},{"f":3000,"dB":139.5,"c":"2"},{"f":4000,"dB":139,"c":"2"},{"f":5000,"dB":139.5,"c":"2"},{"f":6000,"dB":141.5,"c":"2"},{"f":7000,"dB":147,"c":"2"},{"f":7500,"dB":153,"c":"2"},{"f":7800,"dB":163,"c":"2"},{"f":8000,"dB":161,"c":"2"},{"f":8300,"dB":152,"c":"2"},{"f":8500,"dB":145,"c":"2"},{"f":8800,"dB":135,"c":"2"},{"f":9300,"dB":120,"c":"2"},{"f":10000,"dB":110,"c":"2"},{"f":10500,"dB":105,"c":"2"},{"f":11500,"dB":112,"c":"2"},{"f":12500,"dB":122,"c":"2"},{"f":13500,"dB":135,"c":"2"},{"f":14500,"dB":150,"c":"2"},{"f":15000,"dB":165,"c":"2"},{"f":15300,"dB":172,"c":"2"},{"f":15600,"dB":160,"c":"2"},{"f":16000,"dB":148,"c":"2"},{"f":17000,"dB":136,"c":"2"},{"f":18000,"dB":128,"c":"2"},{"f":20000,"dB":120,"c":"2"},
  {"f":100,"dB":162.8,"c":"3"},{"f":200,"dB":158.5,"c":"3"},{"f":400,"dB":152.2,"c":"3"},{"f":600,"dB":149.5,"c":"3"},{"f":800,"dB":146,"c":"3"},{"f":1000,"dB":142.5,"c":"3"},{"f":1300,"dB":138.5,"c":"3"},{"f":1600,"dB":134.5,"c":"3"},{"f":2000,"dB":131.5,"c":"3"},{"f":2500,"dB":130,"c":"3"},{"f":3000,"dB":128.8,"c":"3"},{"f":3500,"dB":126.5,"c":"3"},{"f":4000,"dB":123.5,"c":"3"},{"f":4500,"dB":121,"c":"3"},{"f":5000,"dB":119.5,"c":"3"},{"f":6000,"dB":118.8,"c":"3"},{"f":6800,"dB":120,"c":"3"},{"f":7400,"dB":128,"c":"3"},{"f":7900,"dB":145,"c":"3"},{"f":8200,"dB":172,"c":"3"},{"f":8350,"dB":185,"c":"3"},{"f":8500,"dB":165,"c":"3"},{"f":8800,"dB":140,"c":"3"},{"f":9300,"dB":125,"c":"3"},{"f":10000,"dB":112,"c":"3"},{"f":10500,"dB":105,"c":"3"},{"f":11500,"dB":108,"c":"3"},{"f":12500,"dB":118,"c":"3"},{"f":13500,"dB":132,"c":"3"},{"f":14500,"dB":148,"c":"3"},{"f":15000,"dB":165,"c":"3"},{"f":15400,"dB":178,"c":"3"},{"f":15700,"dB":160,"c":"3"},{"f":16200,"dB":142,"c":"3"},{"f":17000,"dB":130,"c":"3"},{"f":18000,"dB":120,"c":"3"},{"f":20000,"dB":110,"c":"3"},
  {"f":100,"dB":163,"c":"4"},{"f":200,"dB":158.3,"c":"4"},{"f":400,"dB":151,"c":"4"},{"f":600,"dB":142,"c":"4"},{"f":800,"dB":136,"c":"4"},{"f":1000,"dB":132,"c":"4"},{"f":1500,"dB":126,"c":"4"},{"f":2000,"dB":121.5,"c":"4"},{"f":3000,"dB":115,"c":"4"},{"f":4000,"dB":110.5,"c":"4"},{"f":5000,"dB":107,"c":"4"},{"f":6000,"dB":105.5,"c":"4"},{"f":7000,"dB":108,"c":"4"},{"f":7600,"dB":115,"c":"4"},{"f":8000,"dB":135,"c":"4"},{"f":8250,"dB":165,"c":"4"},{"f":8350,"dB":180,"c":"4"},{"f":8500,"dB":160,"c":"4"},{"f":8800,"dB":130,"c":"4"},{"f":9300,"dB":112,"c":"4"},{"f":10000,"dB":104,"c":"4"},{"f":11000,"dB":101,"c":"4"},{"f":12000,"dB":105,"c":"4"},{"f":13000,"dB":115,"c":"4"},{"f":14000,"dB":130,"c":"4"},{"f":14800,"dB":150,"c":"4"},{"f":15200,"dB":170,"c":"4"},{"f":15500,"dB":178,"c":"4"},{"f":15800,"dB":158,"c":"4"},{"f":16500,"dB":138,"c":"4"},{"f":18000,"dB":118,"c":"4"},{"f":20000,"dB":106,"c":"4"},
  {"f":100,"dB":162.5,"c":"5"},{"f":200,"dB":158,"c":"5"},{"f":400,"dB":151.5,"c":"5"},{"f":600,"dB":147,"c":"5"},{"f":1000,"dB":140.5,"c":"5"},{"f":1500,"dB":132,"c":"5"},{"f":2000,"dB":126,"c":"5"},{"f":2500,"dB":121.5,"c":"5"},{"f":3000,"dB":118.5,"c":"5"},{"f":4000,"dB":115.5,"c":"5"},{"f":5000,"dB":113.5,"c":"5"},{"f":6000,"dB":112.5,"c":"5"},{"f":6800,"dB":114,"c":"5"},{"f":7300,"dB":118,"c":"5"},{"f":7700,"dB":128,"c":"5"},{"f":8000,"dB":148,"c":"5"},{"f":8200,"dB":170,"c":"5"},{"f":8300,"dB":182,"c":"5"},{"f":8450,"dB":162,"c":"5"},{"f":8700,"dB":135,"c":"5"},{"f":9200,"dB":117,"c":"5"},{"f":10000,"dB":107,"c":"5"},{"f":11000,"dB":104,"c":"5"},{"f":12000,"dB":107,"c":"5"},{"f":13000,"dB":116,"c":"5"},{"f":14000,"dB":130,"c":"5"},{"f":14800,"dB":148,"c":"5"},{"f":15200,"dB":168,"c":"5"},{"f":15400,"dB":178,"c":"5"},{"f":15700,"dB":160,"c":"5"},{"f":16300,"dB":140,"c":"5"},{"f":18000,"dB":122,"c":"5"},{"f":20000,"dB":110,"c":"5"},
  {"f":100,"dB":161,"c":"6"},{"f":200,"dB":158.5,"c":"6"},{"f":300,"dB":164.9,"c":"6"},{"f":400,"dB":158.6,"c":"6"},{"f":500,"dB":152,"c":"6"},{"f":700,"dB":148,"c":"6"},{"f":1000,"dB":147.2,"c":"6"},{"f":1300,"dB":146.8,"c":"6"},{"f":2000,"dB":143.5,"c":"6"},{"f":3000,"dB":140.5,"c":"6"},{"f":4000,"dB":137.5,"c":"6"},{"f":5000,"dB":137,"c":"6"},{"f":6000,"dB":138,"c":"6"},{"f":6500,"dB":135,"c":"6"},{"f":7000,"dB":140,"c":"6"},{"f":7500,"dB":150,"c":"6"},{"f":7800,"dB":162,"c":"6"},{"f":8000,"dB":158,"c":"6"},{"f":8300,"dB":150,"c":"6"},{"f":9000,"dB":150,"c":"6"},{"f":10000,"dB":147,"c":"6"},{"f":11000,"dB":146,"c":"6"},{"f":12000,"dB":148,"c":"6"},{"f":12500,"dB":158.6,"c":"6"},{"f":13000,"dB":152,"c":"6"},{"f":14000,"dB":147,"c":"6"},{"f":14500,"dB":150,"c":"6"},{"f":15000,"dB":165,"c":"6"},{"f":15300,"dB":170,"c":"6"},{"f":15600,"dB":158,"c":"6"},{"f":16200,"dB":148,"c":"6"},{"f":17500,"dB":146,"c":"6"},{"f":20000,"dB":145,"c":"6"},
  {"f":100,"dB":161.5,"c":"7"},{"f":200,"dB":158,"c":"7"},{"f":300,"dB":156.8,"c":"7"},{"f":400,"dB":158.5,"c":"7"},{"f":500,"dB":160.4,"c":"7"},{"f":700,"dB":148.2,"c":"7"},{"f":1000,"dB":145.5,"c":"7"},{"f":1300,"dB":145,"c":"7"},{"f":2000,"dB":142.5,"c":"7"},{"f":3000,"dB":139.8,"c":"7"},{"f":4000,"dB":137.5,"c":"7"},{"f":5000,"dB":136.5,"c":"7"},{"f":6000,"dB":130,"c":"7"},{"f":6300,"dB":128,"c":"7"},{"f":7000,"dB":135,"c":"7"},{"f":7500,"dB":148,"c":"7"},{"f":7800,"dB":163,"c":"7"},{"f":8100,"dB":158,"c":"7"},{"f":8500,"dB":148,"c":"7"},{"f":9500,"dB":145,"c":"7"},{"f":10500,"dB":143,"c":"7"},{"f":12000,"dB":140.5,"c":"7"},{"f":13500,"dB":143.5,"c":"7"},{"f":14500,"dB":152,"c":"7"},{"f":15000,"dB":170,"c":"7"},{"f":15300,"dB":178,"c":"7"},{"f":15600,"dB":162,"c":"7"},{"f":16500,"dB":146,"c":"7"},{"f":18000,"dB":141,"c":"7"},{"f":20000,"dB":140,"c":"7"}
 ],
 "trPh": [
  {"f":100,"rad":-1.51,"c":"d"},{"f":200,"rad":-1.5,"c":"d"},{"f":300,"rad":-1.46,"c":"d"},{"f":500,"rad":-1.32,"c":"d"},{"f":700,"rad":-1.11,"c":"d"},{"f":950,"rad":-0.92,"c":"d"},{"f":1200,"rad":-1.0,"c":"d"},{"f":1500,"rad":-1.2,"c":"d"},{"f":2000,"rad":-1.42,"c":"d"},{"f":3000,"rad":-1.5,"c":"d"},{"f":4000,"rad":-1.55,"c":"d"},{"f":5000,"rad":-1.58,"c":"d"},{"f":6000,"rad":-1.61,"c":"d"},{"f":7000,"rad":-1.68,"c":"d"},{"f":7500,"rad":-1.8,"c":"d"},{"f":7700,"rad":-2.3,"c":"d"},{"f":7800,"rad":-2.93,"c":"d"},{"f":7850,"rad":2.9,"c":"d"},{"f":8000,"rad":2.73,"c":"d"},{"f":8200,"rad":1.85,"c":"d"},{"f":9000,"rad":1.6,"c":"d"},{"f":10000,"rad":1.58,"c":"d"},{"f":12000,"rad":1.56,"c":"d"},{"f":13500,"rad":1.5,"c":"d"},{"f":14500,"rad":1.34,"c":"d"},{"f":14900,"rad":0.5,"c":"d"},{"f":15000,"rad":-1.04,"c":"d"},{"f":15200,"rad":-1.42,"c":"d"},{"f":16000,"rad":-1.55,"c":"d"},{"f":17000,"rad":-1.6,"c":"d"},{"f":20000,"rad":-1.62,"c":"d"},
  {"f":100,"rad":-1.51,"c":"1"},{"f":200,"rad":-1.51,"c":"1"},{"f":300,"rad":-1.86,"c":"1"},{"f":400,"rad":2.58,"c":"1"},{"f":500,"rad":2.39,"c":"1"},{"f":700,"rad":2.4,"c":"1"},{"f":1000,"rad":2.5,"c":"1"},{"f":1500,"rad":2.6,"c":"1"},{"f":2300,"rad":2.68,"c":"1"},{"f":3000,"rad":2.62,"c":"1"},{"f":4000,"rad":2.35,"c":"1"},{"f":5000,"rad":2.05,"c":"1"},{"f":6000,"rad":1.85,"c":"1"},{"f":7000,"rad":1.7,"c":"1"},{"f":7800,"rad":1.62,"c":"1"},{"f":10000,"rad":1.58,"c":"1"},{"f":14000,"rad":1.57,"c":"1"},{"f":20000,"rad":1.55,"c":"1"},
  {"f":100,"rad":-1.51,"c":"2"},{"f":200,"rad":-1.52,"c":"2"},{"f":300,"rad":-1.55,"c":"2"},{"f":400,"rad":-1.67,"c":"2"},{"f":500,"rad":-2.7,"c":"2"},{"f":600,"rad":2.81,"c":"2"},{"f":700,"rad":2.73,"c":"2"},{"f":900,"rad":2.9,"c":"2"},{"f":1100,"rad":3.1,"c":"2"},{"f":1150,"rad":-3.05,"c":"2"},{"f":1500,"rad":-3.1,"c":"2"},{"f":2000,"rad":-3.12,"c":"2"},{"f":2300,"rad":-3.13,"c":"2"},{"f":2320,"rad":2.98,"c":"2"},{"f":3000,"rad":2.6,"c":"2"},{"f":4000,"rad":2.2,"c":"2"},{"f":5000,"rad":1.9,"c":"2"},{"f":6000,"rad":1.7,"c":"2"},{"f":7000,"rad":1.62,"c":"2"},{"f":8000,"rad":1.6,"c":"2"},{"f":10000,"rad":1.58,"c":"2"},{"f":20000,"rad":1.58,"c":"2"},
  {"f":100,"rad":-1.5,"c":"3"},{"f":300,"rad":-1.42,"c":"3"},{"f":500,"rad":-1.3,"c":"3"},{"f":1000,"rad":-1.0,"c":"3"},{"f":1500,"rad":-0.6,"c":"3"},{"f":2000,"rad":-0.2,"c":"3"},{"f":2800,"rad":0.15,"c":"3"},{"f":3500,"rad":0.05,"c":"3"},{"f":4000,"rad":-0.25,"c":"3"},{"f":4500,"rad":-0.55,"c":"3"},{"f":5200,"rad":-0.64,"c":"3"},{"f":6000,"rad":-0.2,"c":"3"},{"f":6800,"rad":0.75,"c":"3"},{"f":7200,"rad":0.84,"c":"3"},{"f":7600,"rad":0.5,"c":"3"},{"f":8000,"rad":0.0,"c":"3"},{"f":9000,"rad":-0.3,"c":"3"},{"f":10000,"rad":-0.5,"c":"3"},{"f":11000,"rad":-0.8,"c":"3"},{"f":12500,"rad":-1.2,"c":"3"},{"f":14000,"rad":-1.4,"c":"3"},{"f":15000,"rad":-1.55,"c":"3"},{"f":20000,"rad":-1.6,"c":"3"},
  {"f":100,"rad":-1.51,"c":"4"},{"f":300,"rad":-1.5,"c":"4"},{"f":500,"rad":-1.45,"c":"4"},{"f":800,"rad":-1.35,"c":"4"},{"f":1000,"rad":-1.3,"c":"4"},{"f":1500,"rad":-1.45,"c":"4"},{"f":2000,"rad":-1.6,"c":"4"},{"f":3000,"rad":-1.8,"c":"4"},{"f":4000,"rad":-2.0,"c":"4"},{"f":5000,"rad":-2.2,"c":"4"},{"f":6000,"rad":-2.5,"c":"4"},{"f":7000,"rad":-2.7,"c":"4"},{"f":7500,"rad":-2.8,"c":"4"},{"f":7800,"rad":-3.0,"c":"4"},{"f":7900,"rad":2.5,"c":"4"},{"f":8100,"rad":1.9,"c":"4"},{"f":8500,"rad":1.2,"c":"4"},{"f":9000,"rad":0.6,"c":"4"},{"f":10000,"rad":0.0,"c":"4"},{"f":11000,"rad":-0.5,"c":"4"},{"f":12000,"rad":-0.8,"c":"4"},{"f":13500,"rad":-1.2,"c":"4"},{"f":14500,"rad":-1.4,"c":"4"},{"f":15000,"rad":-2.5,"c":"4"},{"f":15300,"rad":-1.5,"c":"4"},{"f":20000,"rad":-1.57,"c":"4"},
  {"f":100,"rad":-1.52,"c":"5"},{"f":500,"rad":-1.42,"c":"5"},{"f":900,"rad":-1.2,"c":"5"},{"f":1200,"rad":-1.3,"c":"5"},{"f":2000,"rad":-1.6,"c":"5"},{"f":3000,"rad":-2.0,"c":"5"},{"f":4000,"rad":-2.35,"c":"5"},{"f":4500,"rad":-2.6,"c":"5"},{"f":5000,"rad":-2.85,"c":"5"},{"f":6000,"rad":-2.7,"c":"5"},{"f":7000,"rad":-2.6,"c":"5"},{"f":7500,"rad":-2.8,"c":"5"},{"f":7800,"rad":-3.1,"c":"5"},{"f":7900,"rad":2.9,"c":"5"},{"f":8200,"rad":1.8,"c":"5"},{"f":9000,"rad":1.6,"c":"5"},{"f":10000,"rad":1.58,"c":"5"},{"f":14000,"rad":1.5,"c":"5"},{"f":14600,"rad":1.2,"c":"5"},{"f":14900,"rad":-2.0,"c":"5"},{"f":15100,"rad":-1.5,"c":"5"},{"f":20000,"rad":-1.6,"c":"5"},
  {"f":100,"rad":-1.5,"c":"6"},{"f":1000,"rad":-1.2,"c":"6"},{"f":2000,"rad":-1.45,"c":"6"},{"f":3000,"rad":-1.7,"c":"6"},{"f":4000,"rad":-2.2,"c":"6"},{"f":4400,"rad":-2.9,"c":"6"},{"f":4450,"rad":3.1,"c":"6"},{"f":4500,"rad":-3.1,"c":"6"},{"f":4700,"rad":3.1,"c":"6"},{"f":4750,"rad":-3.05,"c":"6"},{"f":5000,"rad":-2.7,"c":"6"},{"f":6000,"rad":-2.4,"c":"6"},{"f":7000,"rad":-2.6,"c":"6"},{"f":7700,"rad":-2.8,"c":"6"},{"f":7850,"rad":2.9,"c":"6"},{"f":8200,"rad":1.7,"c":"6"},{"f":9000,"rad":0.5,"c":"6"},{"f":10000,"rad":0.0,"c":"6"},{"f":11000,"rad":-0.4,"c":"6"},{"f":12000,"rad":-0.7,"c":"6"},{"f":14000,"rad":-1.1,"c":"6"},{"f":14800,"rad":-1.3,"c":"6"},{"f":15000,"rad":-1.6,"c":"6"},{"f":20000,"rad":-1.6,"c":"6"},
  {"f":100,"rad":-1.5,"c":"7"},{"f":500,"rad":-1.3,"c":"7"},{"f":700,"rad":-1.1,"c":"7"},{"f":950,"rad":-0.88,"c":"7"},{"f":1200,"rad":-0.98,"c":"7"},{"f":1500,"rad":-1.18,"c":"7"},{"f":2000,"rad":-1.38,"c":"7"},{"f":3000,"rad":-1.48,"c":"7"},{"f":4000,"rad":-1.52,"c":"7"},{"f":5000,"rad":-1.55,"c":"7"},{"f":6000,"rad":-1.58,"c":"7"},{"f":7000,"rad":-1.65,"c":"7"},{"f":7500,"rad":-1.75,"c":"7"},{"f":7750,"rad":-2.5,"c":"7"},{"f":7850,"rad":2.95,"c":"7"},{"f":8000,"rad":2.6,"c":"7"},{"f":8200,"rad":1.8,"c":"7"},{"f":9000,"rad":1.6,"c":"7"},{"f":12000,"rad":1.57,"c":"7"},{"f":14000,"rad":1.5,"c":"7"},{"f":14600,"rad":1.2,"c":"7"},{"f":14950,"rad":-1.0,"c":"7"},{"f":15200,"rad":-1.45,"c":"7"},{"f":20000,"rad":-1.6,"c":"7"}
 ]
},
"spacing": 1,
"resolve": {"scale": {"color": "independent", "strokeDash": "independent", "strokeWidth": "independent"}, "legend": {"color": "independent", "strokeDash": "independent", "strokeWidth": "independent"}},
"hconcat": [
 {
  "width": 312, "height": 364,
  "title": {"text": "×10⁻⁵", "anchor": "start", "frame": "group", "fontWeight": "normal", "fontSize": 14, "offset": -1, "color": "#262626"},
  "layer": [
   {"data": {"name": "area"}, "transform": [{"filter": "datum.c != 'data'"}],
    "mark": {"type": "line", "interpolate": "monotone", "clip": true},
    "encoding": {
     "x": {"field": "x", "type": "quantitative", "scale": {"domain": [0, 0.05]}, "axis": {"values": [0, 0.01, 0.02, 0.03, 0.04, 0.05], "format": ".2~f", "title": "axial distance x [m]", "grid": true, "labelPadding": 9, "titlePadding": 5}},
     "y": {"field": "S", "type": "quantitative", "scale": {"domain": [0, 7]}, "axis": {"values": [0, 1, 2, 3, 4, 5, 6, 7], "format": "d", "title": "area function S [m²]", "grid": true, "labelPadding": 6, "titlePadding": 6}},
     "detail": {"field": "c"},
     "color": {"datum": "parameter fitting", "scale": {"domain": ["parameter fitting", "data"], "range": ["#000000", "#ff0000"]}, "legend": {"title": null, "orient": "top-right", "offset": 6, "strokeColor": "#262626", "fillColor": "white", "padding": 3, "labelFontSize": 13, "labelColor": "#000000", "labelFont": "Liberation Sans", "symbolType": "M-1.8,0H1.8", "symbolSize": 200, "symbolOffset": 6, "rowPadding": 0, "labelOffset": 1}},
     "strokeDash": {"datum": "parameter fitting", "scale": {"domain": ["parameter fitting", "data"], "range": [[1, 0], [7, 6]]}, "legend": {"title": null, "orient": "top-right", "offset": 6, "strokeColor": "#262626", "fillColor": "white", "padding": 3, "labelFontSize": 13, "labelColor": "#000000", "labelFont": "Liberation Sans", "symbolType": "M-1.8,0H1.8", "symbolSize": 200, "symbolOffset": 6, "rowPadding": 0, "labelOffset": 1}},
     "strokeWidth": {"datum": "parameter fitting", "type": "nominal", "scale": {"domain": ["parameter fitting", "data"], "range": [0.8, 2.6]}, "legend": {"title": null, "orient": "top-right", "offset": 6, "strokeColor": "#262626", "fillColor": "white", "padding": 3, "labelFontSize": 13, "labelColor": "#000000", "labelFont": "Liberation Sans", "symbolType": "M-1.8,0H1.8", "symbolSize": 200, "symbolOffset": 6, "rowPadding": 0, "labelOffset": 1}}
    }},
   {"data": {"name": "ext"},
    "mark": {"type": "line", "clip": true, "color": "#444444", "strokeDash": [1, 2], "strokeWidth": 0.8},
    "encoding": {"x": {"field": "x", "type": "quantitative"}, "y": {"field": "S", "type": "quantitative"}, "detail": {"field": "c"}}},
   {"data": {"name": "area"}, "transform": [{"filter": "datum.c == 'data'"}],
    "mark": {"type": "line", "clip": true},
    "encoding": {
     "x": {"field": "x", "type": "quantitative"},
     "y": {"field": "S", "type": "quantitative"},
     "color": {"datum": "data"},
     "strokeDash": {"datum": "data"},
     "strokeWidth": {"datum": "data", "type": "nominal"}
    }},
   {"data": {"name": "umbo"}, "mark": {"type": "text", "baseline": "bottom", "fontSize": 8.5, "color": "#262626", "dy": -1},
    "encoding": {"x": {"field": "x", "type": "quantitative"}, "y": {"field": "S", "type": "quantitative"}, "text": {"field": "label"}}},
   {"data": {"name": "umbo"}, "mark": {"type": "rule", "color": "#262626", "strokeWidth": 0.8},
    "encoding": {"x": {"field": "x", "type": "quantitative"}, "y": {"field": "top", "type": "quantitative"}, "y2": {"field": "tip"}}},
   {"data": {"name": "umbo"}, "mark": {"type": "point", "shape": "triangle-down", "filled": true, "size": 14, "color": "#262626", "opacity": 1},
    "encoding": {"x": {"field": "x", "type": "quantitative"}, "y": {"field": "tip", "type": "quantitative"}}}
  ]
 },
 {
  "spacing": 18,
  "hconcat": [
   {
    "spacing": 23,
    "vconcat": [
     {
      "width": 325, "height": 167,
      "title": "input impedance",
      "data": {"name": "inMag"},
      "encoding": {
       "x": {"field": "f", "type": "quantitative", "scale": {"type": "log", "domain": [100, 20000]}, "axis": {"values": [100,200,300,400,500,600,700,800,900,1000,2000,3000,4000,5000,6000,7000,8000,9000,10000,20000], "labels": false, "title": null, "grid": true, "gridDash": {"condition": {"test": "indexof([100,1000,10000], datum.value) < 0", "value": [1, 2]}, "value": []}, "gridColor": {"condition": {"test": "indexof([100,1000,10000], datum.value) < 0", "value": "#c4c4c4"}, "value": "#e2e2e2"}}},
       "y": {"field": "dB", "type": "quantitative", "scale": {"domain": [110, 180]}, "axis": {"values": [120, 140, 160, 180], "title": ["magnitude", "[dB re 1 Pa·s/m³]"], "titleFont": "DejaVu Serif", "titleFontSize": 13, "titleLineHeight": 17, "titlePadding": 6, "grid": true}}
      },
      "layer": [
       {"transform": [{"filter": "datum.c != 'd'"}], "mark": {"type": "line", "interpolate": "monotone", "clip": true, "color": "#000000", "strokeWidth": 0.8}, "encoding": {"detail": {"field": "c"}}},
       {"transform": [{"filter": "datum.c == 'd'"}], "mark": {"type": "line", "interpolate": "monotone", "clip": true, "color": "#ff0000", "strokeWidth": 2.6, "strokeDash": [8, 5]}, "encoding": {}}
      ]
     },
     {
      "width": 325, "height": 166,
      "data": {"name": "inPh"},
      "encoding": {
       "x": {"field": "f", "type": "quantitative", "scale": {"type": "log", "domain": [100, 20000]}, "axis": {"values": [100,200,300,400,500,600,700,800,900,1000,2000,3000,4000,5000,6000,7000,8000,9000,10000,20000], "labelExpr": "datum.value == 100 ? '10²' : datum.value == 1000 ? '10³' : datum.value == 10000 ? '10⁴' : ''", "title": "frequency [Hz]", "labelPadding": 9, "titlePadding": 9, "grid": true, "gridDash": {"condition": {"test": "indexof([100,1000,10000], datum.value) < 0", "value": [1, 2]}, "value": []}, "gridColor": {"condition": {"test": "indexof([100,1000,10000], datum.value) < 0", "value": "#c4c4c4"}, "value": "#e2e2e2"}}},
       "y": {"field": "rad", "type": "quantitative", "scale": {"domain": [-3.14159, 3.14159]}, "axis": {"values": [-3.14159, -1.5708, 0, 1.5708, 3.14159], "labelExpr": "datum.value < -3 ? '-π' : datum.value < -1 ? 'π/2' : datum.value < 1 ? '0' : datum.value < 3 ? 'π/2' : 'π'", "labelFontSize": {"condition": {"test": "abs(datum.value) > 3", "value": 10}, "value": 14}, "title": "phase [rad]", "titlePadding": 6, "grid": true}}
      },
      "layer": [
       {"transform": [{"filter": "datum.c != 'd'"}], "mark": {"type": "line", "interpolate": "monotone", "clip": true, "color": "#000000", "strokeWidth": 0.8}, "encoding": {"detail": {"field": "c"}}},
       {"transform": [{"filter": "datum.c == 'd'"}], "mark": {"type": "line", "interpolate": "monotone", "clip": true, "color": "#ff0000", "strokeWidth": 2.6, "strokeDash": [8, 5]}, "encoding": {}}
      ]
     }
    ]
   },
   {
    "spacing": 28,
    "vconcat": [
     {
      "width": 325, "height": 167,
      "title": "transfer impedance",
      "data": {"name": "trMag"},
      "encoding": {
       "x": {"field": "f", "type": "quantitative", "scale": {"type": "log", "domain": [100, 20000]}, "axis": {"values": [100,200,300,400,500,600,700,800,900,1000,2000,3000,4000,5000,6000,7000,8000,9000,10000,20000], "labels": false, "title": null, "grid": true, "gridDash": {"condition": {"test": "indexof([100,1000,10000], datum.value) < 0", "value": [1, 2]}, "value": []}, "gridColor": {"condition": {"test": "indexof([100,1000,10000], datum.value) < 0", "value": "#c4c4c4"}, "value": "#e2e2e2"}}},
       "y": {"field": "dB", "type": "quantitative", "scale": {"domain": [110, 180]}, "axis": {"values": [120, 140, 160, 180], "labels": false, "title": null, "grid": true}}
      },
      "layer": [
       {"transform": [{"filter": "datum.c != 'd'"}], "mark": {"type": "line", "interpolate": "monotone", "clip": true, "color": "#000000", "strokeWidth": 0.8}, "encoding": {"detail": {"field": "c"}}},
       {"transform": [{"filter": "datum.c == 'd'"}], "mark": {"type": "line", "interpolate": "monotone", "clip": true, "color": "#ff0000", "strokeWidth": 2.6, "strokeDash": [8, 5]}, "encoding": {}}
      ]
     },
     {
      "width": 325, "height": 166,
      "data": {"name": "trPh"},
      "encoding": {
       "x": {"field": "f", "type": "quantitative", "scale": {"type": "log", "domain": [100, 20000]}, "axis": {"values": [100,200,300,400,500,600,700,800,900,1000,2000,3000,4000,5000,6000,7000,8000,9000,10000,20000], "labelExpr": "datum.value == 100 ? '10²' : datum.value == 1000 ? '10³' : datum.value == 10000 ? '10⁴' : ''", "title": "frequency [Hz]", "labelPadding": 9, "titlePadding": 9, "grid": true, "gridDash": {"condition": {"test": "indexof([100,1000,10000], datum.value) < 0", "value": [1, 2]}, "value": []}, "gridColor": {"condition": {"test": "indexof([100,1000,10000], datum.value) < 0", "value": "#c4c4c4"}, "value": "#e2e2e2"}}},
       "y": {"field": "rad", "type": "quantitative", "scale": {"domain": [-3.14159, 3.14159]}, "axis": {"values": [-3.14159, -1.5708, 0, 1.5708, 3.14159], "labels": false, "title": null, "grid": true}}
      },
      "layer": [
       {"transform": [{"filter": "datum.c != 'd'"}], "mark": {"type": "line", "interpolate": "monotone", "clip": true, "color": "#000000", "strokeWidth": 0.8}, "encoding": {"detail": {"field": "c"}}},
       {"transform": [{"filter": "datum.c == 'd'"}], "mark": {"type": "line", "interpolate": "monotone", "clip": true, "color": "#ff0000", "strokeWidth": 2.6, "strokeDash": [8, 5]}, "encoding": {}}
      ]
     }
    ]
   }
  ]
 }
]
}
